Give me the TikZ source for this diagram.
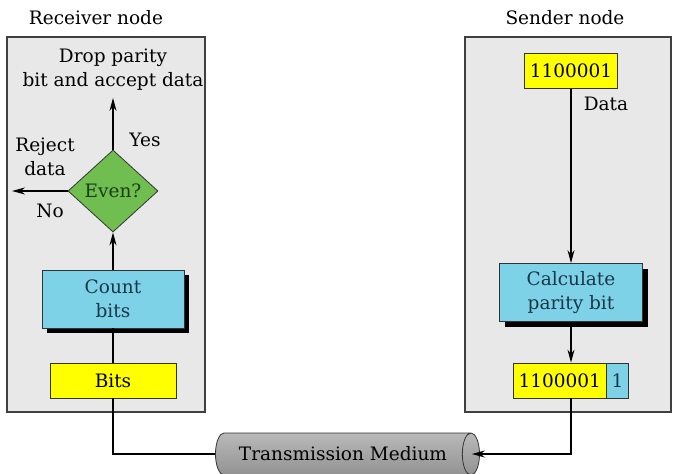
\documentclass[tikz,border=0pt]{standalone}
\usepackage{fontspec}
\setmainfont{DejaVu Serif}
\usetikzlibrary{shapes.geometric,shapes.multipart,shadows,arrows.meta}
\definecolor{panelgray}{RGB}{232,232,232}
\definecolor{boxcyan}{RGB}{125,210,232}
\definecolor{boxyellow}{RGB}{255,255,0}
\definecolor{diagreen}{RGB}{112,190,80}
\definecolor{cyantext}{RGB}{25,55,70}
\definecolor{greentext}{RGB}{25,60,25}
\begin{document}
\begin{tikzpicture}[x=1pt, y=-1pt, >={Stealth[length=13pt,width=7pt]},
  font=\fontsize{18.5}{24}\selectfont,
  panel/.style={draw=black!75, line width=1.2pt, fill=panelgray, minimum height=375pt},
  yellowbox/.style={draw=black!80, line width=0.8pt, fill=boxyellow, inner sep=0pt, minimum height=35pt},
  cyanbox/.style={draw=black!80, line width=0.8pt, fill=boxcyan, align=center, text=cyantext,
    inner sep=0pt, minimum height=58pt,
    drop shadow={shadow xshift=5pt, shadow yshift=-5pt, fill=black, opacity=1}},
  wire/.style={line width=1.3pt}]
  \useasboundingbox[fill=white] (0,0) rectangle (675,474);
  \node[panel, minimum width=198pt] (recv) at (106,224.5) {};
  \node[panel, minimum width=206pt] (send) at (568,224.5) {};
  \node (recvtitle) at (96,18) {Receiver node};
  \node (sendtitle) at (565,18) {Sender node};
  % receiver side
  \node[align=center, inner sep=7pt] (drop) at (113,70) {Drop parity\\bit and accept data};
  \node[diamond, draw=black!80, line width=0.8pt, fill=diagreen, text=greentext, inner sep=0pt,
    minimum width=90pt, minimum height=82pt] (even) at (113,191) {Even?};
  \coordinate (reject) at (12,191);
  \node (yes) at (145,140) {Yes};
  \node[align=center] (rejtext) at (45,157) {Reject\\data};
  \node (no) at (50,211) {No};
  \node[cyanbox, minimum width=142pt] (count) at (113,299) {Count\\bits};
  \node[yellowbox, minimum width=126pt] (bits) at (113,380.5) {Bits};
  % sender side
  \node[yellowbox, minimum width=93pt] (data) at (571,71) {1100001};
  \node (datatext) at (606,104) {Data};
  \node[cyanbox, minimum width=143pt] (calc) at (571,292.5) {Calculate\\parity bit};
  \node[rectangle split, rectangle split horizontal, rectangle split parts=2,
    rectangle split part fill={boxyellow,boxcyan}, draw=black!80, line width=0.8pt,
    inner xsep=5pt, inner ysep=10pt, minimum height=35pt] (res) at (571,380.5)
    {1100001\nodepart{two}\textcolor{cyantext}{1}};
  % medium
  \node[cylinder, draw=black!80, line width=0.8pt, minimum height=264pt, minimum width=42pt,
    aspect=1.2, top color=gray!55, middle color=gray!15, bottom color=gray!85,
    inner sep=0pt] (tube) at (343,454) {Transmission Medium};
  \draw[wire, ->] (even.north) -- (drop.south);
  \draw[wire, ->] (even.west) -- (reject);
  \draw[wire, ->] (count.north) -- (even.south);
  \draw[wire] (bits.north) -- (count.south);
  \draw[wire] (bits.south) |- (tube.west);
  \draw[wire, ->] (data.south) -- (calc.north);
  \draw[wire, ->] (calc.south) -- (res.north);
  \draw[wire, ->, shorten >=-8pt] (res.south) |- (tube.east);
\end{tikzpicture}
\end{document}
